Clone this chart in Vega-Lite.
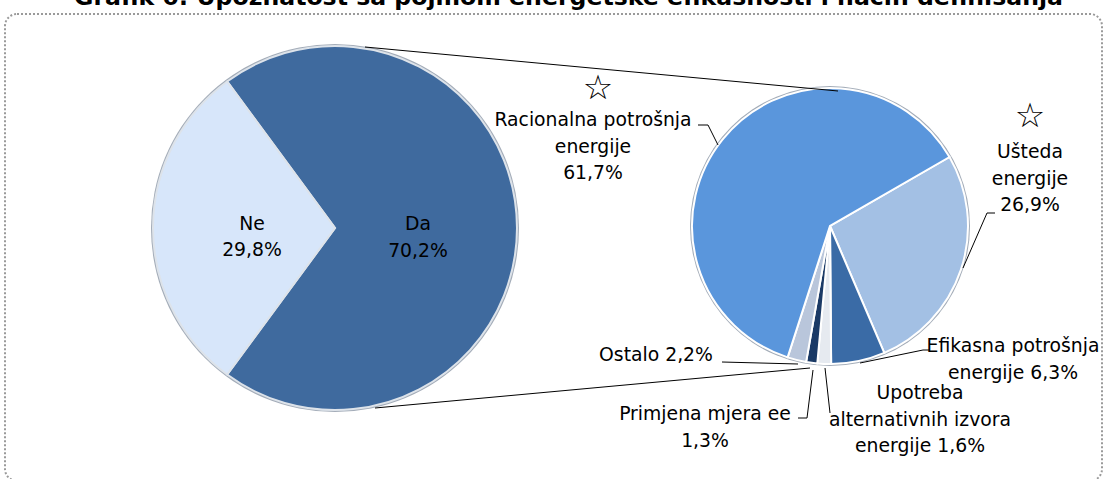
{
  "$schema": "https://vega.github.io/schema/vega-lite/v6.json",
  "width": 1107,
  "height": 479,
  "autosize": {"type": "fit", "contains": "padding"},
  "padding": {"left": 5, "right": 5, "top": -14, "bottom": -2},
  "background": "white",
  "title": {
    "text": "Grafik 6: Upoznatost sa pojmom energetske efikasnosti i način definisanja",
    "font": "DejaVu Sans",
    "fontSize": 23.6,
    "fontWeight": "bold",
    "color": "black",
    "anchor": "middle",
    "offset": 4,
    "dx": 15
  },
  "config": {
    "view": {"stroke": "#9a9a9a", "strokeWidth": 2, "strokeDash": [2, 2], "cornerRadius": 12},
    "text": {"font": "DejaVu Sans", "fontSize": 18.8, "color": "black", "lineHeight": 26.5, "lineBreak": "\n"}
  },
  "datasets": {
    "upoznatost": [
      {"pie": "Upoznatost", "kategorija": "Da", "udio": 70.2, "rb": 1, "oznaka": "Da\n70,2%"},
      {"pie": "Upoznatost", "kategorija": "Ne", "udio": 29.8, "rb": 2, "oznaka": "Ne\n29,8%"}
    ],
    "definisanje": [
      {"pie": "Definisanje", "kategorija": "Ušteda energije", "udio": 26.9, "rb": 1, "oznaka": "Ušteda\nenergije\n26,9%"},
      {"pie": "Definisanje", "kategorija": "Efikasna potrošnja energije", "udio": 6.3, "rb": 2, "oznaka": "Efikasna potrošnja\nenergije 6,3%"},
      {"pie": "Definisanje", "kategorija": "Upotreba alternativnih izvora energije", "udio": 1.6, "rb": 3, "oznaka": "Upotreba\nalternativnih izvora\nenergije 1,6%"},
      {"pie": "Definisanje", "kategorija": "Primjena mjera ee", "udio": 1.3, "rb": 4, "oznaka": "Primjena mjera ee\n1,3%"},
      {"pie": "Definisanje", "kategorija": "Ostalo", "udio": 2.2, "rb": 5, "oznaka": "Ostalo 2,2%"},
      {"pie": "Definisanje", "kategorija": "Racionalna potrošnja energije", "udio": 61.7, "rb": 6, "oznaka": "Racionalna potrošnja\nenergije\n61,7%"}
    ]
  },
  "encoding": {
    "x": {"field": "pie", "type": "nominal", "scale": {"type": "point", "padding": 0, "domain": ["Upoznatost", "Definisanje"], "range": [330, 825]}, "axis": null},
    "y": {"field": "pie", "type": "nominal", "scale": {"type": "point", "padding": 0, "domain": ["Upoznatost", "Definisanje"], "range": [214, 212]}, "axis": null}
  },
  "layer": [
    {
      "data": {"values": [{"pie": "Upoznatost"}]},
      "mark": {"type": "arc", "theta": 0, "theta2": 6.2832, "outerRadius": 184, "fill": "#a3acb8"}
    },
    {
      "data": {"values": [{"pie": "Definisanje"}]},
      "mark": {"type": "arc", "theta": 0, "theta2": 6.2832, "outerRadius": 140, "fill": "#a3acb8"}
    },
    {
      "data": {"name": "upoznatost"},
      "mark": {"type": "arc", "outerRadius": 182, "stroke": "#dde3ea", "strokeWidth": 2},
      "encoding": {
        "theta": {"field": "udio", "type": "quantitative", "stack": true, "scale": {"domain": [0, 100], "range": [-0.6346, 5.6486]}},
        "order": {"field": "rb", "type": "quantitative"},
        "color": {
          "field": "kategorija", "type": "nominal", "legend": null,
          "scale": {
            "domain": ["Da", "Ne", "Racionalna potrošnja energije", "Ušteda energije", "Efikasna potrošnja energije", "Upotreba alternativnih izvora energije", "Primjena mjera ee", "Ostalo"],
            "range": ["#3F6A9E", "#D7E6FA", "#5A96DC", "#A3C0E4", "#3A6BA6", "#E6EAF0", "#1B3A66", "#B9C6DB"]
          }
        }
      }
    },
    {
      "data": {"name": "upoznatost"},
      "mark": {"type": "text", "radius": 83, "yOffset": -4, "align": "center", "baseline": "middle"},
      "encoding": {
        "theta": {"field": "udio", "type": "quantitative", "stack": true, "scale": {"domain": [0, 100], "range": [-0.6346, 5.6486]}},
        "order": {"field": "rb", "type": "quantitative"},
        "text": {"field": "oznaka", "type": "nominal"}
      }
    },
    {
      "data": {"name": "definisanje"},
      "mark": {"type": "arc", "outerRadius": 138, "stroke": "white", "strokeWidth": 2},
      "encoding": {
        "theta": {"field": "udio", "type": "quantitative", "stack": true, "scale": {"domain": [0, 100], "range": [1.0472, 7.3304]}},
        "order": {"field": "rb", "type": "quantitative"},
        "color": {"field": "kategorija", "type": "nominal", "legend": null}
      }
    },
    {
      "data": {"name": "definisanje"},
      "transform": [{"filter": {"field": "kategorija", "equal": "Racionalna potrošnja energije"}}],
      "mark": {"type": "text", "xOffset": -237, "yOffset": -106, "align": "center", "baseline": "middle"},
      "encoding": {"text": {"field": "oznaka", "type": "nominal"}}
    },
    {
      "data": {"name": "definisanje"},
      "transform": [{"filter": {"field": "kategorija", "equal": "Ušteda energije"}}],
      "mark": {"type": "text", "xOffset": 200, "yOffset": -74, "align": "center", "baseline": "middle"},
      "encoding": {"text": {"field": "oznaka", "type": "nominal"}}
    },
    {
      "data": {"name": "definisanje"},
      "transform": [{"filter": {"field": "kategorija", "equal": "Efikasna potrošnja energije"}}],
      "mark": {"type": "text", "xOffset": 183, "yOffset": 120, "align": "center", "baseline": "middle"},
      "encoding": {"text": {"field": "oznaka", "type": "nominal"}}
    },
    {
      "data": {"name": "definisanje"},
      "transform": [{"filter": {"field": "kategorija", "equal": "Upotreba alternativnih izvora energije"}}],
      "mark": {"type": "text", "xOffset": 90, "yOffset": 167, "align": "center", "baseline": "middle"},
      "encoding": {"text": {"field": "oznaka", "type": "nominal"}}
    },
    {
      "data": {"name": "definisanje"},
      "transform": [{"filter": {"field": "kategorija", "equal": "Primjena mjera ee"}}],
      "mark": {"type": "text", "xOffset": -125, "yOffset": 188, "align": "center", "baseline": "middle"},
      "encoding": {"text": {"field": "oznaka", "type": "nominal"}}
    },
    {
      "data": {"name": "definisanje"},
      "transform": [{"filter": {"field": "kategorija", "equal": "Ostalo"}}],
      "mark": {"type": "text", "xOffset": -174, "yOffset": 129, "align": "center", "baseline": "middle"},
      "encoding": {"text": {"field": "oznaka", "type": "nominal"}}
    },
    {
      "data": {"name": "definisanje"},
      "transform": [{"filter": {"field": "kategorija", "equal": "Racionalna potrošnja energije"}}],
      "mark": {"type": "text", "text": "☆", "fontSize": 34, "xOffset": -232, "yOffset": -137, "align": "center", "baseline": "middle"}
    },
    {
      "data": {"name": "definisanje"},
      "transform": [{"filter": {"field": "kategorija", "equal": "Ušteda energije"}}],
      "mark": {"type": "text", "text": "☆", "fontSize": 34, "xOffset": 200, "yOffset": -109, "align": "center", "baseline": "middle"}
    },
    {
      "data": {"values": [{}]},
      "mark": {"type": "rule", "color": "black", "strokeWidth": 1, "xOffset": -132, "yOffset": -101, "x2Offset": -122, "y2Offset": -101},
      "encoding": {"x": {"datum": "Definisanje"}, "x2": {"datum": "Definisanje"}, "y": {"datum": "Definisanje"}, "y2": {"datum": "Definisanje"}}
    },
    {
      "data": {"values": [{}]},
      "mark": {"type": "rule", "color": "black", "strokeWidth": 1, "xOffset": -122, "yOffset": -101, "x2Offset": -112, "y2Offset": -81},
      "encoding": {"x": {"datum": "Definisanje"}, "x2": {"datum": "Definisanje"}, "y": {"datum": "Definisanje"}, "y2": {"datum": "Definisanje"}}
    },
    {
      "data": {"values": [{}]},
      "mark": {"type": "rule", "color": "black", "strokeWidth": 1, "xOffset": 165, "yOffset": -13, "x2Offset": 157, "y2Offset": -13},
      "encoding": {"x": {"datum": "Definisanje"}, "x2": {"datum": "Definisanje"}, "y": {"datum": "Definisanje"}, "y2": {"datum": "Definisanje"}}
    },
    {
      "data": {"values": [{}]},
      "mark": {"type": "rule", "color": "black", "strokeWidth": 1, "xOffset": 157, "yOffset": -13, "x2Offset": 133, "y2Offset": 42},
      "encoding": {"x": {"datum": "Definisanje"}, "x2": {"datum": "Definisanje"}, "y": {"datum": "Definisanje"}, "y2": {"datum": "Definisanje"}}
    },
    {
      "data": {"values": [{}]},
      "mark": {"type": "rule", "color": "black", "strokeWidth": 1, "xOffset": 100, "yOffset": 124, "x2Offset": 93, "y2Offset": 124},
      "encoding": {"x": {"datum": "Definisanje"}, "x2": {"datum": "Definisanje"}, "y": {"datum": "Definisanje"}, "y2": {"datum": "Definisanje"}}
    },
    {
      "data": {"values": [{}]},
      "mark": {"type": "rule", "color": "black", "strokeWidth": 1, "xOffset": 93, "yOffset": 124, "x2Offset": 30, "y2Offset": 137},
      "encoding": {"x": {"datum": "Definisanje"}, "x2": {"datum": "Definisanje"}, "y": {"datum": "Definisanje"}, "y2": {"datum": "Definisanje"}}
    },
    {
      "data": {"values": [{}]},
      "mark": {"type": "rule", "color": "black", "strokeWidth": 1, "xOffset": 0, "yOffset": 187, "x2Offset": -5, "y2Offset": 142},
      "encoding": {"x": {"datum": "Definisanje"}, "x2": {"datum": "Definisanje"}, "y": {"datum": "Definisanje"}, "y2": {"datum": "Definisanje"}}
    },
    {
      "data": {"values": [{}]},
      "mark": {"type": "rule", "color": "black", "strokeWidth": 1, "xOffset": -32, "yOffset": 192, "x2Offset": -23, "y2Offset": 192},
      "encoding": {"x": {"datum": "Definisanje"}, "x2": {"datum": "Definisanje"}, "y": {"datum": "Definisanje"}, "y2": {"datum": "Definisanje"}}
    },
    {
      "data": {"values": [{}]},
      "mark": {"type": "rule", "color": "black", "strokeWidth": 1, "xOffset": -23, "yOffset": 192, "x2Offset": -17, "y2Offset": 144},
      "encoding": {"x": {"datum": "Definisanje"}, "x2": {"datum": "Definisanje"}, "y": {"datum": "Definisanje"}, "y2": {"datum": "Definisanje"}}
    },
    {
      "data": {"values": [{}]},
      "mark": {"type": "rule", "color": "black", "strokeWidth": 1, "xOffset": -108, "yOffset": 136, "x2Offset": -32, "y2Offset": 138},
      "encoding": {"x": {"datum": "Definisanje"}, "x2": {"datum": "Definisanje"}, "y": {"datum": "Definisanje"}, "y2": {"datum": "Definisanje"}}
    },
    {
      "data": {"values": [{}]},
      "mark": {"type": "rule", "color": "black", "strokeWidth": 1, "xOffset": 30, "yOffset": -181, "x2Offset": 8, "y2Offset": -135},
      "encoding": {"x": {"datum": "Upoznatost"}, "x2": {"datum": "Definisanje"}, "y": {"datum": "Upoznatost"}, "y2": {"datum": "Definisanje"}}
    },
    {
      "data": {"values": [{}]},
      "mark": {"type": "rule", "color": "black", "strokeWidth": 1, "xOffset": 40, "yOffset": 180, "x2Offset": -20, "y2Offset": 142},
      "encoding": {"x": {"datum": "Upoznatost"}, "x2": {"datum": "Definisanje"}, "y": {"datum": "Upoznatost"}, "y2": {"datum": "Definisanje"}}
    }
  ],
  "resolve": {"scale": {"theta": "independent"}}
}
